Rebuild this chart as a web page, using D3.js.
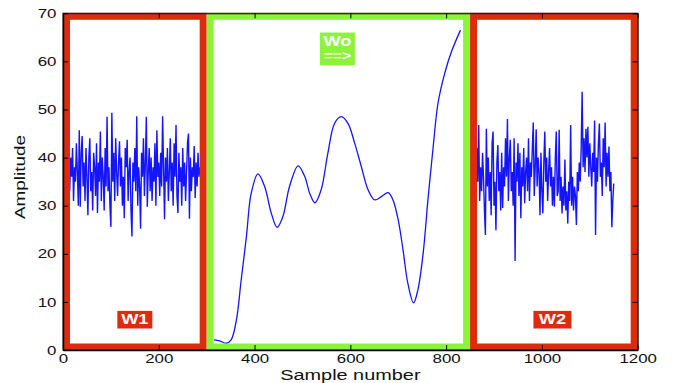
<!DOCTYPE html>
<html>
<head>
<meta charset="utf-8">
<script src="https://cdn.jsdelivr.net/npm/d3@7"></script>
<style>
  body { margin: 0; background: #fff; }
  text { font-family: "Liberation Sans", Arial, sans-serif; }
</style>
</head>
<body>
<div id="chart"></div>
<script>
// window boundaries in sample numbers
const windows = [
  { name: "W1", x0: 0, x1: 300, color: "#de2b0e", label: ["W1"], lx: 150, ly: 6.3, bottom: true },
  { name: "Wo", x0: 300, x1: 850, color: "#8cf33a", label: ["Wo", "==>"], lx: 573, ly: 66, bottom: false },
  { name: "W2", x0: 850, x1: 1200, color: "#de2b0e", label: ["W2"], lx: 1022, ly: 6.3, bottom: true }
];

// noise in W1, starting at sample 14, one value every 2 samples
const w1Start = 14;
const w1Values = [
  33, 40, 36, 42, 31, 38, 35, 43, 37, 30,
  45.7, 29.8, 41, 44.5, 34, 39, 31, 42, 36, 28,
  40, 44, 33, 37, 29, 41, 38, 32, 43, 28.5,
  39, 35, 45.4, 31, 40, 36, 29, 42, 34, 48.5,
  33, 38, 30, 25.6, 49.3, 35, 41, 31, 44, 37,
  32, 39, 43.4, 34, 40, 30, 36, 27.4, 42, 38,
  43.7, 31, 37, 40, 29, 23.6, 39, 35, 42, 33,
  48.6, 30, 38, 34, 25.2, 41, 36, 44, 32, 39,
  48.5, 29.8, 37, 42, 33, 40, 31, 38, 35, 43,
  30, 45.7, 36, 39, 32, 41, 34, 48.6, 38, 27.2,
  40, 35, 42, 31, 37, 44, 33, 39, 30, 43,
  36, 46.8, 32, 28.5, 41, 35, 38, 30, 42, 34,
  39, 31, 37, 43, 45, 27.3, 40, 33, 38, 36,
  42.4, 31.6, 39, 34, 41, 36, 38
];

// smooth part in Wo
const woX = [315, 327, 341, 351, 362, 372, 383, 393, 407, 421, 435, 447, 459, 473, 491, 505, 515, 526,
  539, 553, 567, 581, 595, 609, 623, 637, 651, 665, 679, 689, 700, 710, 720, 732, 741, 752, 762,
  773, 783, 797, 811, 830];
const woY = [2.1, 1.9, 1.4, 2.1, 6.2, 14.5, 23.6, 32.6, 36.6, 34, 28.4, 25.5, 27.7, 34, 38.3, 36, 32.6, 30.6,
  33.3, 40.9, 47.1, 48.5, 47.1, 43, 38.1, 33.3, 31.2, 31.9, 32.7, 31.2, 27, 20.8, 13.9, 9.8, 12.5, 20.1, 31.2,
  42.3, 51.3, 57.5, 62, 66.5];

// noise in W2, starting at sample 858, one value every 2 samples
const w2Start = 858;
const w2Values = [
  36, 39, 32.6, 42, 35, 46.8, 31, 38, 33, 41,
  36, 29, 23.9, 46, 34, 40, 31, 37, 28, 43,
  45.4, 30, 35, 24.9, 39, 42.6, 33, 37, 29, 41,
  29.5, 38, 34, 44, 36, 48, 31, 40, 43.7, 33,
  37, 30, 44, 18.5, 39, 35, 43, 32, 41, 27.4,
  38, 34, 42, 30.5, 37, 40, 33, 44, 31, 39,
  36, 42, 47.3, 32, 38, 45.9, 34, 40, 37, 28,
  41, 33, 28.4, 39, 45.4, 35, 40, 31, 37, 42,
  34, 38, 30, 36, 29.8, 40, 45.4, 32, 33, 45.8,
  31, 36, 28.4, 34, 30, 39.6, 29, 33, 26.3, 35,
  31, 46.8, 30, 36, 29, 34, 32, 26, 37, 33,
  39, 35, 42, 53.7, 38, 44, 37, 46, 40, 46.4,
  36, 43, 38, 34, 41, 37, 47.7, 23.9, 40, 35,
  43, 47.1, 36, 39, 32, 44, 38, 47.3, 34, 41,
  36, 42.3, 33, 37, 25.5, 31, 34.6
];

const xTicks = [0, 200, 400, 600, 800, 1000, 1200];
const yTicks = [0, 10, 20, 30, 40, 50, 60, 70];

const width = 683, height = 383;
const margin = { left: 63, right: 45.3, top: 13.3, bottom: 33 };
const stretch = 1.3; // the reference text is drawn wide

const svg = d3.select("#chart").append("svg")
  .attr("width", width)
  .attr("height", height);

const x = d3.scaleLinear().domain([0, 1200]).range([margin.left, width - margin.right]);
const y = d3.scaleLinear().domain([0, 70]).range([height - margin.bottom, margin.top]);

const blue = "#1414ff";
const line = d3.line().x(d => x(d[0])).y(d => y(d[1]));

const w1 = w1Values.map((v, i) => [w1Start + 2 * i, v]);
const w2 = w2Values.map((v, i) => [w2Start + 2 * i, v]);
const wo = woX.map((v, i) => [v, woY[i]]);

svg.append("path").datum(w1).attr("d", line)
  .attr("fill", "none").attr("stroke", blue).attr("stroke-width", 1.4);
svg.append("path").datum(w2).attr("d", line)
  .attr("fill", "none").attr("stroke", blue).attr("stroke-width", 1.4);
svg.append("path").datum(wo).attr("d", line.curve(d3.curveCatmullRom))
  .attr("fill", "none").attr("stroke", blue).attr("stroke-width", 1.3);

// window frames, stroke kept inside the window
const sw = 7;
svg.append("g").selectAll("rect")
  .data(windows)
  .join("rect")
  .attr("x", d => x(d.x0) + sw / 2)
  .attr("y", y(70) + sw / 2 - 0.5)
  .attr("width", d => x(d.x1) - x(d.x0) - sw)
  .attr("height", y(0) - y(70) - sw + 1)
  .attr("fill", "none")
  .attr("stroke", d => d.color)
  .attr("stroke-width", sw);

// window labels
windows.forEach(d => {
  const g = svg.append("g");
  const bw = d.name === "W2" ? 38 : 35;
  const bh = d.label.length > 1 ? 32.7 : 17.6;
  const top = d.bottom ? y(d.ly) - bh / 2 : y(d.ly);
  g.append("rect")
    .attr("x", x(d.lx) - bw / 2)
    .attr("y", top)
    .attr("width", bw)
    .attr("height", bh)
    .attr("fill", d.color);
  d.label.forEach((s, i) => {
    g.append("text")
      .attr("transform", `translate(${x(d.lx)},${top + 13.5 + i * 14}) scale(${stretch},1)`)
      .attr("text-anchor", "middle")
      .attr("fill", "#fff")
      .style("font-weight", "bold")
      .style("font-size", i === 0 ? "14px" : "12px")
      .text(s);
  });
});

// axes box
svg.append("rect")
  .attr("x", x(0)).attr("y", y(70))
  .attr("width", x(1200) - x(0)).attr("height", y(0) - y(70))
  .attr("fill", "none").attr("stroke", "#222").attr("stroke-width", 1);

const tickLen = 5;
const styleTicks = g => g.selectAll("text")
  .style("font-size", "13px").attr("fill", "#111")
  .style("font-family", "Liberation Sans, Arial, sans-serif");

svg.append("g")
  .attr("transform", `translate(0,${y(0)})`)
  .call(d3.axisBottom(x).tickValues(xTicks).tickFormat(d3.format("d"))
    .tickSizeInner(-tickLen).tickSizeOuter(0).tickPadding(4))
  .call(g => g.select(".domain").attr("stroke", "#000").attr("stroke-width", 1.5))
  .call(styleTicks)
  .call(g => g.selectAll("text").attr("transform", `scale(${stretch},1)`));

svg.append("g")
  .attr("transform", `translate(0,${y(70)})`)
  .call(d3.axisTop(x).tickValues(xTicks).tickSizeInner(-tickLen).tickSizeOuter(0).tickFormat(""))
  .call(g => g.select(".domain").attr("stroke", "#222"));

svg.append("g")
  .attr("transform", `translate(${x(0)},0)`)
  .call(d3.axisLeft(y).tickValues(yTicks).tickSizeInner(-tickLen).tickSizeOuter(0))
  .call(g => g.select(".domain").attr("stroke", "#000").attr("stroke-width", 1.5))
  .call(styleTicks)
  .call(g => g.selectAll("text").attr("x", -6.5 / stretch).attr("transform", `scale(${stretch},1)`));

svg.append("g")
  .attr("transform", `translate(${x(1200)},0)`)
  .call(d3.axisRight(y).tickValues(yTicks).tickSizeInner(-tickLen).tickSizeOuter(0).tickFormat(""))
  .call(g => g.select(".domain").attr("stroke", "#222"));

// axis titles
svg.append("text")
  .attr("transform", `translate(${(x(0) + x(1200)) / 2},380) scale(${stretch + 0.12},1)`)
  .attr("text-anchor", "middle")
  .style("font-size", "14px")
  .attr("fill", "#111")
  .text("Sample number");

svg.append("text")
  .attr("transform", `translate(25,177) rotate(-90) scale(${stretch + 0.05},1)`)
  .attr("text-anchor", "middle")
  .style("font-size", "14px")
  .attr("fill", "#111")
  .text("Amplitude");
</script>
</body>
</html>
